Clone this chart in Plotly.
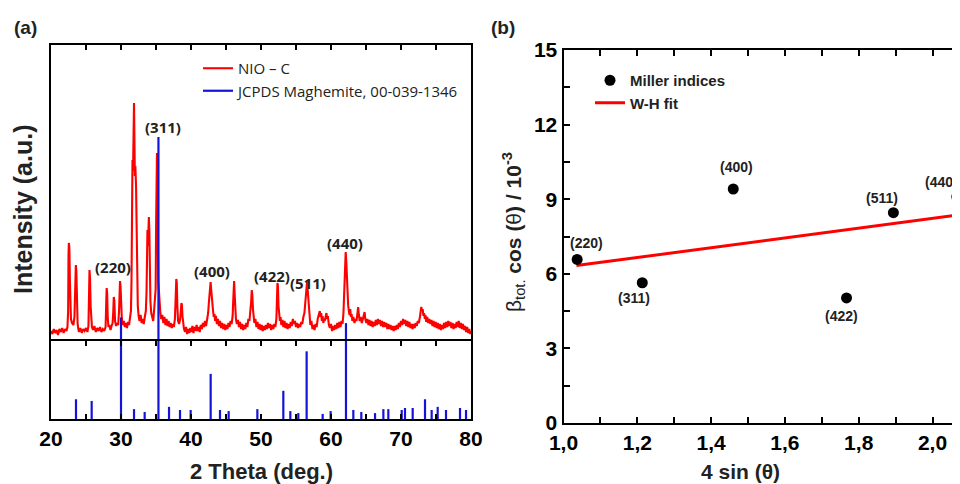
import plotly.graph_objects as go

# ---------------- Panel (a): XRD pattern of NIO-C (2theta, intensity a.u.) ----------------
nio_c_pattern = [
    (20.0, 10), (20.2, 7), (20.4, 12), (20.6, 8), (20.8, 11), (21.0, 6), (21.2, 12), (21.4, 9),
    (21.6, 13), (21.8, 8), (22.0, 12), (22.2, 10), (22.35, 14), (22.45, 30), (22.5, 85), (22.55, 98),
    (22.62, 94), (22.7, 60), (22.78, 30), (22.85, 22), (23.0, 18), (23.2, 16), (23.35, 24), (23.45, 60),
    (23.55, 76), (23.62, 70), (23.7, 40), (23.8, 18), (23.9, 12), (24.0, 9), (24.2, 13), (24.4, 8),
    (24.6, 12), (24.8, 10), (25.0, 13), (25.2, 9), (25.35, 15), (25.42, 40), (25.5, 71), (25.58, 62),
    (25.66, 35), (25.75, 20), (25.85, 14), (26.0, 11), (26.2, 15), (26.4, 9), (26.6, 13), (26.8, 10),
    (27.0, 14), (27.2, 9), (27.4, 12), (27.6, 10), (27.8, 14), (27.88, 35), (27.95, 53), (28.02, 48),
    (28.1, 25), (28.2, 14), (28.35, 16), (28.5, 11), (28.65, 15), (28.8, 18), (28.9, 30), (28.97, 44),
    (29.05, 40), (29.15, 20), (29.3, 15), (29.45, 18), (29.6, 16), (29.72, 30), (29.8, 50), (29.86, 60),
    (29.93, 55), (30.02, 30), (30.12, 22), (30.25, 16), (30.4, 20), (30.55, 14), (30.7, 18), (30.85, 13),
    (31.0, 19), (31.15, 16), (31.3, 22), (31.42, 30), (31.5, 60), (31.58, 150), (31.64, 181), (31.72, 170),
    (31.8, 215), (31.86, 238), (31.92, 200), (31.98, 165), (32.05, 175), (32.15, 155), (32.22, 120), (32.3, 60),
    (32.4, 35), (32.52, 25), (32.65, 20), (32.8, 26), (32.95, 18), (33.1, 22), (33.25, 17), (33.4, 24),
    (33.55, 30), (33.65, 50), (33.72, 100), (33.78, 111), (33.85, 95), (33.92, 115), (33.98, 124), (34.05, 110),
    (34.12, 70), (34.2, 40), (34.32, 28), (34.45, 22), (34.6, 20), (34.72, 30), (34.85, 40), (34.95, 52),
    (35.02, 120), (35.08, 170), (35.14, 188), (35.2, 150), (35.26, 90), (35.33, 60), (35.42, 50), (35.52, 35),
    (35.62, 28), (35.75, 22), (35.9, 26), (36.05, 18), (36.2, 24), (36.35, 16), (36.5, 22), (36.65, 15),
    (36.8, 20), (36.95, 14), (37.1, 18), (37.25, 13), (37.4, 17), (37.55, 14), (37.7, 22), (37.82, 45),
    (37.9, 62), (37.97, 58), (38.05, 35), (38.15, 20), (38.3, 17), (38.45, 22), (38.55, 30), (38.63, 38),
    (38.7, 36), (38.78, 25), (38.88, 15), (39.0, 12), (39.15, 9), (39.3, 14), (39.45, 7), (39.6, 12),
    (39.75, 8), (39.9, 13), (40.05, 9), (40.2, 15), (40.35, 8), (40.5, 14), (40.65, 10), (40.8, 16),
    (40.95, 10), (41.1, 14), (41.25, 9), (41.4, 16), (41.55, 12), (41.7, 18), (41.85, 14), (42.0, 20),
    (42.15, 15), (42.3, 22), (42.45, 28), (42.55, 38), (42.65, 50), (42.72, 58), (42.8, 59), (42.88, 52),
    (42.95, 44), (43.05, 36), (43.15, 30), (43.25, 24), (43.35, 27), (43.45, 20), (43.55, 25), (43.7, 17),
    (43.85, 22), (44.0, 15), (44.15, 20), (44.3, 13), (44.45, 18), (44.6, 12), (44.75, 17), (44.9, 11),
    (45.05, 16), (45.2, 12), (45.35, 18), (45.5, 14), (45.65, 20), (45.8, 17), (45.95, 25), (46.03, 40),
    (46.1, 58), (46.16, 60), (46.23, 48), (46.32, 30), (46.42, 22), (46.55, 17), (46.7, 21), (46.85, 14),
    (47.0, 19), (47.15, 12), (47.3, 17), (47.45, 11), (47.6, 16), (47.75, 12), (47.9, 18), (48.05, 14),
    (48.2, 22), (48.35, 20), (48.45, 34), (48.52, 30), (48.6, 40), (48.68, 51), (48.76, 46), (48.85, 32),
    (48.95, 24), (49.05, 18), (49.2, 22), (49.35, 14), (49.5, 19), (49.65, 12), (49.8, 17), (49.95, 11),
    (50.1, 16), (50.25, 10), (50.4, 15), (50.55, 11), (50.7, 16), (50.85, 12), (51.0, 18), (51.15, 13),
    (51.3, 17), (51.45, 11), (51.6, 16), (51.75, 12), (51.9, 17), (52.05, 14), (52.2, 22), (52.28, 40),
    (52.35, 58), (52.42, 55), (52.5, 35), (52.6, 22), (52.7, 20), (52.8, 24), (52.9, 16), (53.05, 21),
    (53.2, 14), (53.35, 20), (53.5, 13), (53.65, 18), (53.8, 12), (53.95, 17), (54.1, 13), (54.25, 19),
    (54.4, 15), (54.55, 22), (54.7, 17), (54.85, 20), (55.0, 14), (55.15, 18), (55.3, 13), (55.45, 17),
    (55.6, 14), (55.75, 19), (55.9, 17), (56.05, 24), (56.2, 28), (56.3, 36), (56.4, 45), (56.5, 55),
    (56.58, 59), (56.66, 52), (56.75, 42), (56.85, 30), (56.95, 22), (57.05, 16), (57.2, 20), (57.35, 12),
    (57.5, 16), (57.65, 11), (57.8, 17), (57.95, 14), (58.1, 22), (58.25, 26), (58.4, 30), (58.5, 24),
    (58.6, 28), (58.7, 20), (58.8, 25), (58.9, 18), (59.0, 22), (59.1, 20), (59.25, 26), (59.35, 28),
    (59.45, 22), (59.55, 25), (59.7, 16), (59.85, 13), (60.0, 17), (60.15, 10), (60.3, 15), (60.45, 11),
    (60.6, 16), (60.75, 12), (60.9, 18), (61.05, 13), (61.2, 19), (61.35, 14), (61.5, 20), (61.65, 17),
    (61.78, 28), (61.88, 45), (61.95, 68), (62.02, 82), (62.1, 89), (62.18, 80), (62.26, 62), (62.35, 45),
    (62.45, 36), (62.55, 30), (62.65, 26), (62.75, 32), (62.85, 24), (62.95, 27), (63.05, 20), (63.2, 24),
    (63.35, 18), (63.5, 22), (63.65, 20), (63.78, 28), (63.88, 34), (63.98, 26), (64.1, 20), (64.25, 24),
    (64.4, 18), (64.55, 22), (64.7, 25), (64.8, 29), (64.9, 22), (65.05, 18), (65.2, 22), (65.35, 16),
    (65.5, 21), (65.65, 15), (65.8, 20), (65.95, 14), (66.1, 19), (66.25, 15), (66.4, 21), (66.55, 16),
    (66.7, 22), (66.85, 17), (67.0, 21), (67.15, 15), (67.3, 20), (67.45, 14), (67.6, 19), (67.75, 14),
    (67.9, 18), (68.05, 12), (68.2, 17), (68.35, 12), (68.5, 16), (68.65, 11), (68.8, 15), (68.95, 10),
    (69.1, 15), (69.25, 11), (69.4, 16), (69.55, 12), (69.7, 18), (69.85, 14), (70.0, 20), (70.15, 16),
    (70.3, 22), (70.45, 17), (70.6, 21), (70.75, 15), (70.9, 20), (71.05, 14), (71.2, 19), (71.35, 13),
    (71.5, 17), (71.65, 12), (71.8, 17), (71.95, 13), (72.1, 18), (72.25, 15), (72.4, 20), (72.55, 18),
    (72.7, 24), (72.8, 28), (72.9, 34), (73.0, 30), (73.1, 32), (73.2, 25), (73.3, 28), (73.4, 22),
    (73.5, 26), (73.6, 19), (73.75, 24), (73.9, 18), (74.05, 22), (74.2, 17), (74.35, 21), (74.5, 15),
    (74.65, 20), (74.8, 14), (74.95, 19), (75.1, 13), (75.25, 18), (75.4, 12), (75.55, 17), (75.7, 11),
    (75.85, 16), (76.0, 12), (76.15, 18), (76.3, 13), (76.45, 19), (76.6, 14), (76.75, 20), (76.9, 15),
    (77.05, 19), (77.2, 13), (77.35, 18), (77.5, 12), (77.65, 17), (77.8, 13), (77.95, 19), (78.1, 14),
    (78.25, 20), (78.4, 13), (78.55, 18), (78.7, 12), (78.85, 17), (79.0, 11), (79.15, 15), (79.3, 9),
    (79.45, 14), (79.6, 8), (79.75, 12), (79.9, 7), (80.0, 10),
]
nio_2theta = [p[0] for p in nio_c_pattern]
nio_intensity = [p[1] for p in nio_c_pattern]

# JCPDS maghemite 00-039-1346 reference sticks (2theta, relative intensity %)
jcpds_2theta = [23.57, 25.81, 30.0, 31.86, 33.38, 35.35, 36.86, 38.43, 39.95, 42.81,
                44.14, 45.38, 49.48, 53.19, 54.19, 55.33, 56.52, 58.81, 59.95, 62.14,
                63.19, 64.33, 66.29, 67.48, 68.19, 70.10, 70.57, 71.67, 73.43, 74.38,
                75.24, 76.43, 78.43, 79.29]
jcpds_rel_int = [7.0, 6.4, 36.0, 3.5, 2.5, 100.0, 4.3, 3.2, 3.2, 16.0,
                 3.2, 2.8, 3.5, 10.0, 2.8, 2.1, 24.0, 1.8, 2.8, 34.0,
                 3.2, 2.5, 2.1, 3.5, 3.5, 3.2, 3.9, 3.9, 7.0, 3.2,
                 4.3, 3.2, 3.9, 3.2]

xrd_ticks = [20, 25, 30, 35, 40, 45, 50, 55, 60, 65, 70, 75, 80]
xrd_ticktext = ["20", "", "30", "", "40", "", "50", "", "60", "", "70", "", "80"]

xrd_peak_labels = ["(220)", "(311)", "(400)", "(422)", "(511)", "(440)"]
xrd_label_x = [28.81, 36.04, 42.96, 51.61, 56.76, 62.0]
xrd_label_y = [74, 214, 70, 65, 58, 98]

# ---------------- Panel (b): Williamson-Hall plot ----------------
wh_4sin = [1.037, 1.2135, 1.460, 1.767, 1.894, 2.066]
wh_beta_cos = [6.58, 5.64, 9.41, 5.03, 8.46, 9.10]
wh_hkl = ["(220)", "(311)", "(400)", "(422)", "(511)", "(440)"]
wh_label_x = [1.061, 1.191, 1.469, 1.754, 1.862, 2.025]
wh_label_y = [7.24, 5.04, 10.29, 4.30, 9.06, 9.70]
fit_x = [1.035, 2.066]
fit_y = [6.33, 8.36]

wh_xticks = [1.0, 1.1, 1.2, 1.3, 1.4, 1.5, 1.6, 1.7, 1.8, 1.9, 2.0]
wh_xticktext = ["1,0", "", "1,2", "", "1,4", "", "1,6", "", "1,8", "", "2,0"]
wh_yticks = [0, 1.5, 3, 4.5, 6, 7.5, 9, 10.5, 12, 13.5, 15]
wh_yticktext = ["0", "", "3", "", "6", "", "9", "", "12", "", "15"]

# ---------------- figure ----------------
W, H = 960, 484
OFF = 8   # the page body margin shifts the figure by 8 px


def px_x(p):
    return (p - OFF) / W


def px_y(p):
    return 1 - (p - OFF) / H


ARIAL = "Liberation Sans, Arial, sans-serif"
OPEN = "Open Sans, sans-serif"

# panel (a) geometry: sticks baseline at 419 px, divider at 341 px, top at 45 px;
# 100 % stick height = 282 px
STICK_FULL = 132.6          # % value at the top of panel (a)
STICK_SPLIT = 27.66         # % value at the divider line

stick_x, stick_y = [], []
for t, r in zip(jcpds_2theta, jcpds_rel_int):
    stick_x += [t, t, None]
    stick_y += [0, r, None]

fig = go.Figure()
fig.add_trace(go.Scatter(x=nio_2theta, y=nio_intensity, xaxis="x", yaxis="y", mode="lines",
                         line=dict(color="#ff0000", width=2.1), name="NIO \u2013 C", legend="legend"))
fig.add_trace(go.Scatter(x=stick_x, y=stick_y, xaxis="x", yaxis="y3", mode="lines",
                         line=dict(color="#1414d8", width=2.2), showlegend=False, hoverinfo="skip"))
fig.add_trace(go.Scatter(x=stick_x, y=stick_y, xaxis="x2", yaxis="y2", mode="lines",
                         line=dict(color="#1414d8", width=2.2), name="JCPDS Maghemite, 00-039-1346",
                         legend="legend"))
fig.add_trace(go.Scatter(x=fit_x, y=fit_y, xaxis="x3", yaxis="y4", mode="lines",
                         line=dict(color="#ff0000", width=3), name="W-H fit", legend="legend2"))
fig.add_trace(go.Scatter(x=wh_4sin, y=wh_beta_cos, xaxis="x3", yaxis="y4", mode="markers",
                         marker=dict(color="black", size=11), name="Miller indices", legend="legend2",
                         cliponaxis=False))

tickfont = dict(family=ARIAL, size=21, color="black", weight="bold")
line_style = dict(showgrid=False, zeroline=False, showline=True, linecolor="black", linewidth=2,
                  automargin=False)
tick_style = dict(ticks="inside", tickwidth=2, tickcolor="black", tickmode="array")

fig.update_layout(
    width=W, height=H, margin=dict(l=0, r=0, t=0, b=0, autoexpand=False),
    paper_bgcolor="white", plot_bgcolor="white",
    # top panel of (a): top border with downward ticks
    xaxis=dict(**line_style, **tick_style, domain=[px_x(51), px_x(471)], range=[20, 80],
               anchor="y", side="top", tickvals=xrd_ticks, ticklen=5, mirror=False,
               showticklabels=False),
    # upward ticks sitting on the divider line
    xaxis4=dict(**tick_style, domain=[px_x(51), px_x(471)], range=[20, 80], anchor="y",
                overlaying="x", side="bottom", tickvals=xrd_ticks, ticklen=5, showline=False,
                showgrid=False, zeroline=False, showticklabels=False, automargin=False),
    yaxis=dict(**line_style, domain=[px_y(341), px_y(45)], range=[0, 296], anchor="x",
               mirror=True, ticks="", showticklabels=False),
    yaxis3=dict(domain=[px_y(341), px_y(45)], range=[STICK_SPLIT, STICK_FULL], overlaying="y",
                anchor="x", visible=False, showgrid=False, zeroline=False),
    # bottom panel of (a): bottom axis + divider line
    xaxis2=dict(**line_style, **tick_style, domain=[px_x(51), px_x(471)], range=[20, 80],
                anchor="y2", tickvals=xrd_ticks, ticktext=xrd_ticktext, ticklen=5,
                mirror="ticks", tickfont=tickfont),
    yaxis2=dict(**line_style, domain=[px_y(419), px_y(341)], range=[0, STICK_SPLIT], anchor="x2",
                mirror=True, ticks="", showticklabels=False),
    # panel (b)
    xaxis3=dict(**line_style, **tick_style, domain=[px_x(563.5), px_x(960)], range=[1.0, 2.0745],
                anchor="y4", tickvals=wh_xticks, ticktext=wh_xticktext, ticklen=6,
                mirror="ticks", tickfont=tickfont),
    yaxis4=dict(**line_style, **tick_style, domain=[px_y(423), px_y(50)], range=[0, 15],
                anchor="x3", tickvals=wh_yticks, ticktext=wh_yticktext, ticklen=6,
                mirror=False, tickfont=tickfont),
    legend=dict(x=px_x(198), y=px_y(52), xanchor="left", yanchor="top", bgcolor="rgba(0,0,0,0)",
                font=dict(family=OPEN, size=15, color="#222222"), tracegroupgap=0),
    legend2=dict(x=px_x(590), y=px_y(64), xanchor="left", yanchor="top", bgcolor="rgba(0,0,0,0)",
                 font=dict(family=ARIAL, size=15, color="#222222", weight="bold"), tracegroupgap=0,
                 traceorder="reversed"),
    showlegend=True,
)

ann = []
for t, x, y in zip(xrd_peak_labels, xrd_label_x, xrd_label_y):
    ann.append(dict(text=t, x=x, y=y, xref="x", yref="y", showarrow=False,
                    xanchor="center", yanchor="middle",
                    font=dict(family=OPEN, size=15, color="#222222", weight="bold")))
for t, x, y in zip(wh_hkl, wh_label_x, wh_label_y):
    ann.append(dict(text=t, x=x, y=y, xref="x3", yref="y4", showarrow=False,
                    xanchor="center", yanchor="middle",
                    font=dict(family=ARIAL, size=14, color="#222222", weight="bold")))


def paper_text(text, xp, yp, size, angle=0):
    return dict(text=text, x=px_x(xp), y=px_y(yp), xref="paper", yref="paper", showarrow=False,
                xanchor="center", yanchor="middle", textangle=angle,
                font=dict(family=ARIAL, size=size, color="#222222"))


ann += [
    paper_text("<b>(a)</b>", 25, 27, 19),
    paper_text("<b>(b)</b>", 503, 27, 19),
    paper_text("<b>Intensity (a.u.)</b>", 23, 210, 25, -90),
    paper_text("<b>2 Theta (deg.)</b>", 261, 471, 22),
    paper_text("<b>4 sin (\u03b8)</b>", 740, 471, 21),
    paper_text("\u03b2<sub>tot.</sub> <b>cos (</b>\u03b8<b>) / 10<sup>-3</sup></b>", 513, 232, 21, -90),
]
fig.update_layout(annotations=ann)

fig.write_html("out.html")
